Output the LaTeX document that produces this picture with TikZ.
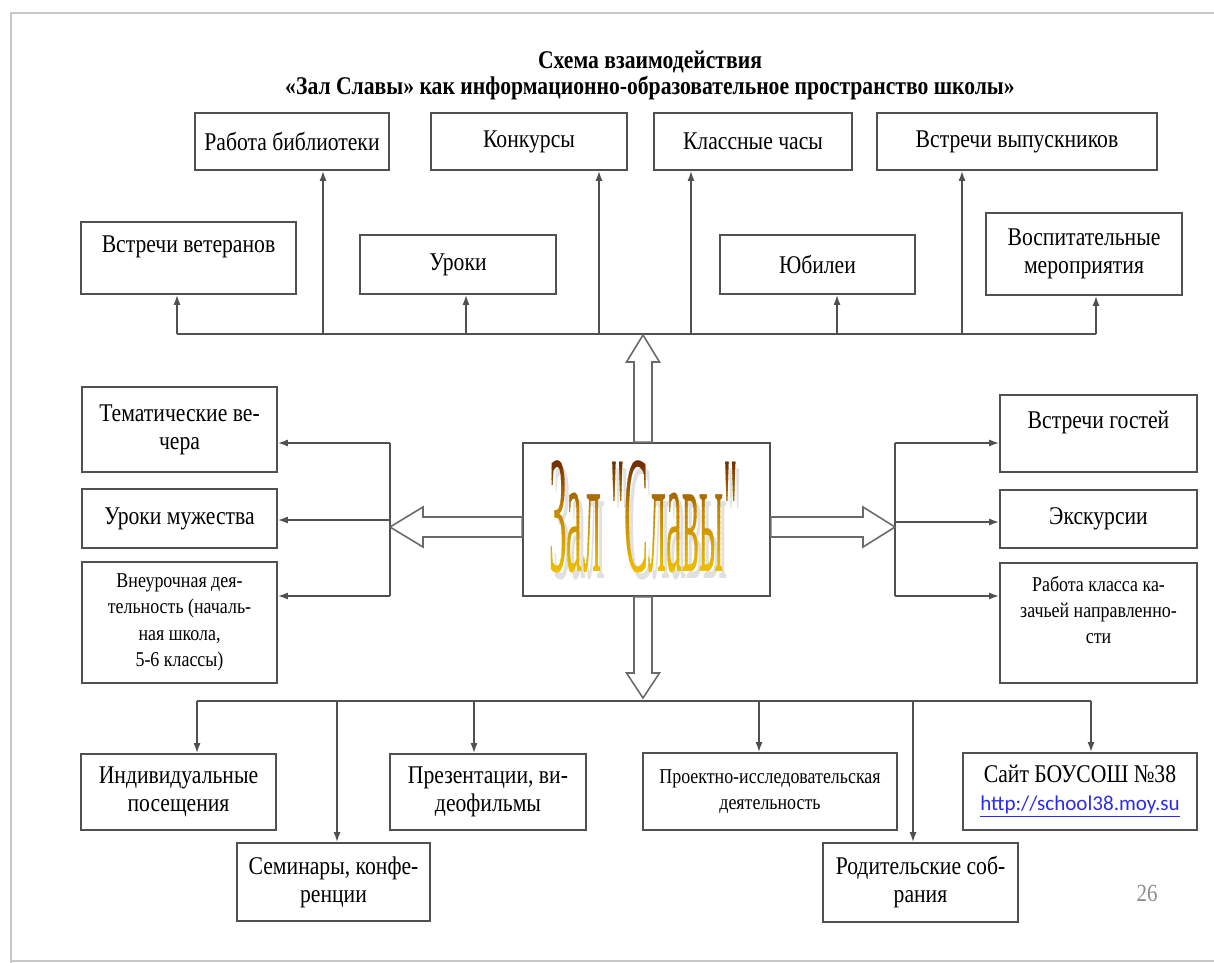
\documentclass[tikz,border=0pt]{standalone}
\usepackage{graphicx}
\usepackage{fontspec}
\setmainfont{Liberation Serif}[FakeStretch=0.85]
\newfontfamily\linkfont{Carlito}
\newfontfamily\zalfont{Liberation Serif}
\usetikzlibrary{arrows.meta}

\definecolor{linegray}{HTML}{505050}
\definecolor{framegray}{HTML}{C8C8C8}
\definecolor{linkblue}{HTML}{2B2BF0}
\definecolor{zaltop}{HTML}{5A1400}
\definecolor{zalmid}{HTML}{C88A00}
\definecolor{zalbot}{HTML}{F8CC00}

\newcommand\bodysize{\fontsize{14.5}{16}\selectfont}
\newcommand\smallsize{\fontsize{12}{15}\selectfont}
\newcommand\zaltext{\scalebox{0.51}[2.38]{\zalfont\fontsize{40}{40}\selectfont Зал "Славы"}}

\tikzset{
  box/.style={draw=linegray, line width=1pt, align=center, inner sep=2pt, font=\bodysize},
  smallbox/.style={box, font=\smallsize},
  ln/.style={draw=linegray, line width=0.9pt},
  arr/.style={ln, -{Latex[length=2mm,width=1.4mm]}},
  fat/.style={draw=linegray!85, line width=0.9pt, fill=white, line join=miter},
  frame/.style={draw=framegray, line width=1.5pt}
}

\begin{document}
\begin{tikzpicture}[x=0.02cm, y=-0.02cm]
  \useasboundingbox (0,0) rectangle (1214,963);

  % page edge
  \draw[frame] (11,963) -- (11,13) -- (1214,13);
  \draw[frame] (11,961) -- (1214,961);

  \node[align=center, font=\bfseries\fontsize{14.5}{14.8}\selectfont] (title) at (650,75)
    {Схема взаимодействия\\«Зал Славы» как информационно-образовательное пространство школы»};

  % top
  \node[box, minimum width=3.88cm, minimum height=1.14cm] (lib) at (292,141.5) {Работа библиотеки};
  \node[box, minimum width=3.92cm, minimum height=1.14cm] (konk) at (529,141.5) {Конкурсы};
  \node[box, minimum width=3.96cm, minimum height=1.14cm] (klass) at (753,141.5) {Классные часы};
  \node[box, minimum width=5.6cm, minimum height=1.14cm] (vyp) at (1017,141.5) {Встречи выпускников};
  \node[box, minimum width=4.3cm, minimum height=1.44cm] (vet) at (188.5,258) {Встречи ветеранов\\\mbox{}};
  \node[box, minimum width=3.92cm, minimum height=1.18cm] (uroki) at (458,264.5) {Уроки};
  \node[box, minimum width=3.9cm, minimum height=1.18cm] (yub) at (817.5,264.5) {Юбилеи};
  \node[box, minimum width=3.92cm, minimum height=1.64cm] (vosp) at (1084,254) {Воспитательные\\мероприятия};

  % centre
  \node[box, minimum width=4.94cm, minimum height=3.06cm] (zal) at (646.5,519.5) {};

  % left
  \node[box, minimum width=3.9cm, minimum height=1.7cm] (tem) at (179.5,429.5) {Тематические ве-\\чера};
  \node[box, minimum width=3.9cm, minimum height=1.18cm] (muzh) at (179.5,518.5) {Уроки мужества};
  \node[smallbox, minimum width=3.9cm, minimum height=2.42cm] (vneur) at (179.5,622.5)
    {Внеурочная дея-\\тельность (началь-\\ная школа,\\5-6 классы)};

  % right
  \node[box, minimum width=3.94cm, minimum height=1.54cm] (gost) at (1098.5,433.5) {Встречи гостей\\\mbox{}};
  \node[box, minimum width=3.94cm, minimum height=1.16cm] (eksk) at (1098.5,519) {Экскурсии};
  \node[smallbox, minimum width=3.94cm, minimum height=2.4cm] (kazak) at (1098.5,623)
    {Работа класса ка-\\зачьей направленно-\\сти\\\mbox{}};

  % bottom
  \node[box, minimum width=3.9cm, minimum height=1.52cm] (indiv) at (178.5,792) {Индивидуальные\\посещения};
  \node[box, minimum width=3.86cm, minimum height=1.56cm] (semin) at (333.5,882) {Семинары, конфе-\\ренции};
  \node[box, minimum width=3.92cm, minimum height=1.52cm] (prez) at (488,792) {Презентации, ви-\\деофильмы};
  \node[smallbox, minimum width=5.08cm, minimum height=1.54cm] (proekt) at (770,791.5) {Проектно-исследовательская\\деятельность};
  \node[box, minimum width=3.9cm, minimum height=1.58cm] (rodit) at (920.5,882.5) {Родительские соб-\\рания};
  \node[box, minimum width=4.68cm, minimum height=1.54cm] (sait) at (1080,791.5)
    {Сайт БОУСОШ №38\\{\linkfont\fontsize{12}{15}\selectfont\color{linkblue}\underline{http://school38.moy.su}}};

  \node[text=black!45, font=\fontsize{14}{14}\selectfont] (page) at (1147,893) {26};

  % top bus
  \coordinate (busL) at (177,334);
  \coordinate (busR) at (1096,334);
  \draw[ln] (busL) -- (busR);
  \foreach \px/\nd in {177/vet,323/lib,466/uroki,599/konk,691/klass,837/yub,962/vyp,1096/vosp}{
    \coordinate (tap\nd) at (\px,334);
    \draw[arr] (tap\nd) -- (tap\nd |- \nd.south);
  }

  % left fork
  \coordinate (ltem) at (390,443);
  \coordinate (lmuzh) at (390,520);
  \coordinate (lvneur) at (390,596);
  \draw[ln] (ltem) -- (lvneur);
  \foreach \nd in {tem,muzh,vneur}
    \draw[arr] (l\nd) -- (l\nd -| \nd.east);

  % right fork
  \coordinate (rgost) at (895,443);
  \coordinate (reksk) at (895,522);
  \coordinate (rkazak) at (895,596);
  \draw[ln] (rgost) -- (rkazak);
  \foreach \nd in {gost,eksk,kazak}
    \draw[arr] (r\nd) -- (r\nd -| \nd.west);

  % bottom bus
  \coordinate (bbL) at (197,701);
  \coordinate (bbR) at (1091,701);
  \draw[ln] (bbL) -- (bbR);
  \foreach \px/\nd in {197/indiv,337/semin,474/prez,759/proekt,913/rodit,1091/sait}{
    \coordinate (btap\nd) at (\px,701);
    \draw[arr] (btap\nd) -- (btap\nd |- \nd.north);
  }

  % hollow arrows
  \coordinate (upTip) at (643,335);
  \draw[fat] (upTip) -- (659.5,362) -- (652,362) -- (652,0 |- zal.north)
    -- (634,0 |- zal.north) -- (634,362) -- (626.5,362) -- cycle;
  \coordinate (dnTip) at (643,698);
  \draw[fat] (dnTip) -- (659.5,673) -- (652,673) -- (652,0 |- zal.south)
    -- (634,0 |- zal.south) -- (634,673) -- (626.5,673) -- cycle;
  \coordinate (lTip) at (390,527);
  \draw[fat] (lTip) -- (423,507) -- (423,517) -- (zal.west |- 0,517)
    -- (zal.west |- 0,537) -- (423,537) -- (423,547) -- cycle;
  \coordinate (rTip) at (895,527);
  \draw[fat] (rTip) -- (863,507) -- (863,517) -- (zal.east |- 0,517)
    -- (zal.east |- 0,537) -- (863,537) -- (863,547) -- cycle;

  % word art, coloured in bands
  \coordinate (zalmidpt) at ([shift={(-3,-3)}]zal.center);
  \node[text=black!30, opacity=0.4, inner sep=0pt] (zalshadow) at ([shift={(4,7)}]zalmidpt) {\zaltext};
  \foreach \i in {0,...,25}{
    \pgfmathtruncatemacro{\pct}{\i<13 ? 100-\i*100/12 : 100-(\i-13)*100/12}
    \ifnum\i<13 \colorlet{bandcol}{zaltop!\pct!zalmid}\else\colorlet{bandcol}{zalmid!\pct!zalbot}\fi
    \begin{scope}
      \clip ([shift={(-120,-70+\i*5.4)}]zalmidpt) rectangle ([shift={(120,-70+\i*5.4+5.8)}]zalmidpt);
      \node[text=bandcol, inner sep=0pt] (zalband\i) at (zalmidpt) {\zaltext};
    \end{scope}
  }
\end{tikzpicture}
\end{document}
